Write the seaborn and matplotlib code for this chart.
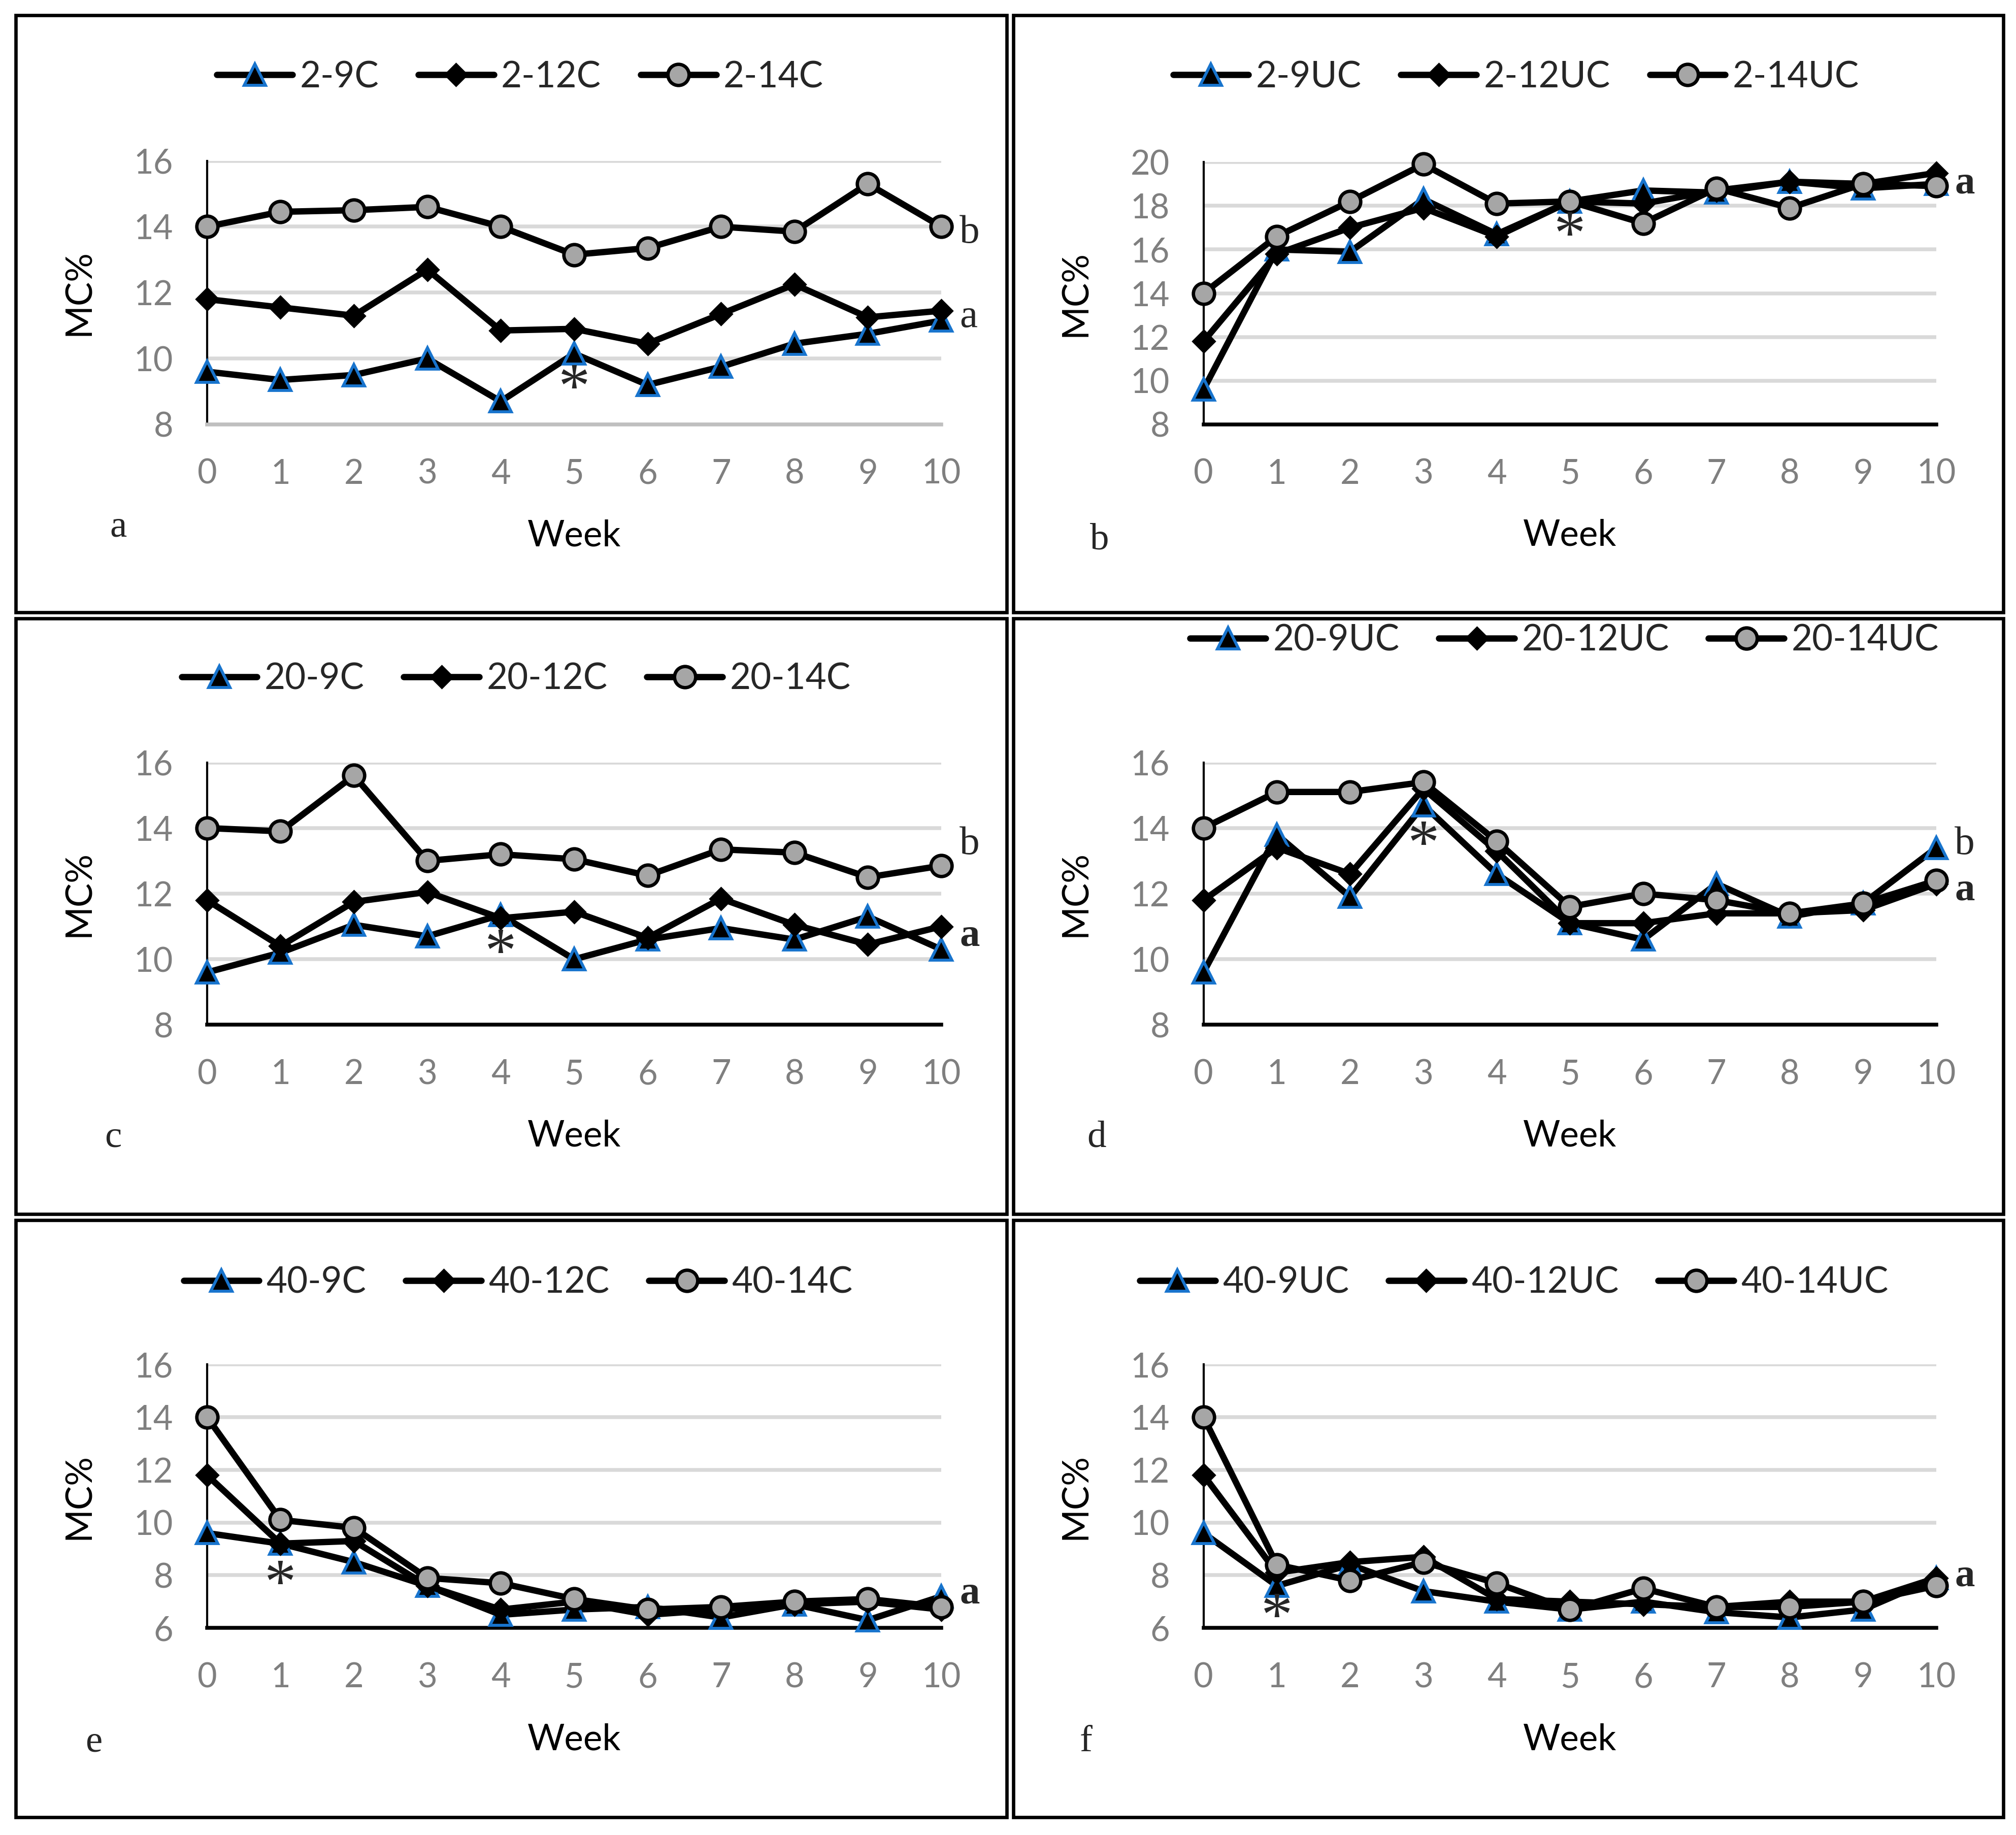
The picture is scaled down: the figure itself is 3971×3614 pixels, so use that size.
import matplotlib
matplotlib.use("Agg")
import matplotlib.pyplot as plt
import seaborn as sns
from matplotlib.patches import Rectangle

# ------------------------------
# Data (MC% by week)
# ------------------------------
weeks = list(range(11))

# panel a : 2 % RH, covered
a_9 = [9.6, 9.35, 9.5, 10.0, 8.7, 10.15, 9.2, 9.75, 10.45, 10.75, 11.15]
a_12 = [11.8, 11.55, 11.3, 12.7, 10.85, 10.9, 10.45, 11.35, 12.25, 11.25, 11.45]
a_14 = [14.0, 14.45, 14.5, 14.6, 14.0, 13.15, 13.35, 14.0, 13.85, 15.3, 14.0]

# panel b : 2 % RH, uncovered
b_9 = [9.6, 16.0, 15.9, 18.3, 16.7, 18.2, 18.7, 18.6, 19.1, 18.8, 19.0]
b_12 = [11.8, 15.8, 17.0, 17.9, 16.6, 18.2, 18.1, 18.7, 19.1, 19.0, 19.5]
b_14 = [14.0, 16.6, 18.2, 19.9, 18.1, 18.2, 17.2, 18.8, 17.9, 19.0, 18.9]

# panel c : 20 % RH, covered
c_9 = [9.6, 10.2, 11.05, 10.7, 11.35, 10.0, 10.6, 10.95, 10.6, 11.3, 10.3]
c_12 = [11.8, 10.4, 11.75, 12.05, 11.25, 11.45, 10.65, 11.85, 11.05, 10.45, 11.0]
c_14 = [14.0, 13.9, 15.6, 13.0, 13.2, 13.05, 12.55, 13.35, 13.25, 12.5, 12.85]

# panel d : 20 % RH, uncovered
d_9 = [9.6, 13.8, 11.9, 14.7, 12.6, 11.1, 10.6, 12.3, 11.3, 11.7, 13.4]
d_12 = [11.8, 13.4, 12.6, 15.2, 13.3, 11.1, 11.1, 11.4, 11.4, 11.5, 12.3]
d_14 = [14.0, 15.1, 15.1, 15.4, 13.6, 11.6, 12.0, 11.8, 11.4, 11.7, 12.4]

# panel e : 40 % RH, covered
e_9 = [9.6, 9.2, 8.5, 7.6, 6.5, 6.7, 6.8, 6.4, 6.9, 6.3, 7.2]
e_12 = [11.8, 9.2, 9.3, 7.6, 6.7, 7.0, 6.5, 6.7, 6.9, 7.0, 6.7]
e_14 = [14.0, 10.1, 9.8, 7.9, 7.7, 7.1, 6.7, 6.8, 7.0, 7.1, 6.8]

# panel f : 40 % RH, uncovered
f_9 = [9.6, 7.6, 8.4, 7.4, 7.0, 6.7, 7.0, 6.6, 6.4, 6.7, 7.9]
f_12 = [11.8, 8.1, 8.5, 8.7, 7.1, 7.0, 6.9, 6.8, 7.0, 7.0, 7.9]
f_14 = [14.0, 8.4, 7.8, 8.5, 7.7, 6.7, 7.5, 6.8, 6.8, 7.0, 7.6]

names_a = ["2-9C", "2-12C", "2-14C"]
names_b = ["2-9UC", "2-12UC", "2-14UC"]
names_c = ["20-9C", "20-12C", "20-14C"]
names_d = ["20-9UC", "20-12UC", "20-14UC"]
names_e = ["40-9C", "40-12C", "40-14C"]
names_f = ["40-9UC", "40-12UC", "40-14UC"]

panel_letters = ["a", "b", "c", "d", "e", "f"]
y_limits = [(8, 16), (8, 20), (8, 16), (8, 16), (6, 16), (6, 16)]

# asterisk (week, MC) and group letters (text, MC, bold)
stars = [(5, 9.0), (5, 16.5), (4, 10.1), (3, 13.4), (1, 7.55), (1, 6.3)]
groups = [
    [("b", 13.8, False), ("a", 11.25, False)],
    [("a", 19.0, True)],
    [("b", 13.5, False), ("a", 10.7, True)],
    [("b", 13.5, False), ("a", 12.1, True)],
    [("a", 7.3, True)],
    [("a", 7.95, True)],
]

# ------------------------------
# Layout (figure fractions)
# ------------------------------
sns.set_style("white")
plt.rcParams["font.family"] = ["Lato", "DejaVu Sans"]

fig = plt.figure(figsize=(3971 / 300, 3614 / 300), dpi=300)

ax_rects = [
    [0.1027, 0.7687, 0.3642, 0.1437],
    [0.5970, 0.7687, 0.3635, 0.1430],
    [0.1027, 0.4415, 0.3642, 0.1430],
    [0.5970, 0.4415, 0.3635, 0.1430],
    [0.1027, 0.1128, 0.3642, 0.1437],
    [0.5970, 0.1128, 0.3635, 0.1437],
]
boxes = [
    [0.0077, 0.6664, 0.4917, 0.3252],
    [0.5026, 0.6664, 0.4910, 0.3252],
    [0.0077, 0.3385, 0.4917, 0.3244],
    [0.5026, 0.3385, 0.4910, 0.3244],
    [0.0077, 0.0098, 0.4917, 0.3252],
    [0.5026, 0.0098, 0.4910, 0.3252],
]
legend_pos = [(0.258, 0.958), (0.752, 0.958), (0.256, 0.630),
              (0.776, 0.651), (0.257, 0.301), (0.751, 0.301)]
letter_pos = [(-0.121, -0.39), (-0.142, -0.44), (-0.128, -0.43),
              (-0.146, -0.43), (-0.154, -0.434), (-0.16, -0.434)]

panels = [
    (a_9, a_12, a_14, names_a),
    (b_9, b_12, b_14, names_b),
    (c_9, c_12, c_14, names_c),
    (d_9, d_12, d_14, names_d),
    (e_9, e_12, e_14, names_e),
    (f_9, f_12, f_14, names_f),
]

tick_gray = "#7F7F7F"
blue = "#1874CD"

for i, (s9, s12, s14, names) in enumerate(panels):
    # panel frame
    fig.patches.append(Rectangle((boxes[i][0], boxes[i][1]), boxes[i][2], boxes[i][3],
                                 transform=fig.transFigure, fill=False,
                                 edgecolor="black", linewidth=1.6))

    ax = fig.add_axes(ax_rects[i])
    sns.lineplot(x=weeks, y=s9, ax=ax, color="black", linewidth=3.0,
                 marker="^", markersize=10, markerfacecolor="black",
                 markeredgecolor=blue, markeredgewidth=1.4,
                 label=names[0], clip_on=False, zorder=3)
    sns.lineplot(x=weeks, y=s12, ax=ax, color="black", linewidth=3.0,
                 marker="D", markersize=7.5, markerfacecolor="black",
                 markeredgecolor="black", label=names[1], clip_on=False, zorder=4)
    sns.lineplot(x=weeks, y=s14, ax=ax, color="black", linewidth=3.0,
                 marker="o", markersize=10, markerfacecolor="#A6A6A6",
                 markeredgecolor="black", markeredgewidth=1.6,
                 label=names[2], clip_on=False, zorder=5)

    lo, hi = y_limits[i]
    ax.set_xlim(0, 10)
    ax.set_ylim(lo, hi)
    ax.set_xticks(weeks)
    ax.set_yticks(range(lo, hi + 1, 2))
    ax.grid(axis="y", color="#D9D9D9", linewidth=1.8, zorder=0)
    ax.set_axisbelow(True)
    ax.tick_params(axis="both", length=0, labelsize=16, labelcolor=tick_gray, pad=16)

    for side in ["top", "right"]:
        ax.spines[side].set_visible(False)
    ax.spines["left"].set_color("black")
    ax.spines["left"].set_linewidth(1.0)
    if i == 0:
        ax.spines["bottom"].set_color("#BFBFBF")
    else:
        ax.spines["bottom"].set_color("black")
    ax.spines["bottom"].set_linewidth(1.8)

    ax.set_ylabel("MC%", fontsize=17, color="black")
    ax.yaxis.set_label_coords(-0.152, 0.5)
    ax.set_xlabel("Week", fontsize=17, color="black")
    ax.xaxis.set_label_coords(0.5, -0.36)

    # legend above the plot
    ax.legend(loc="center", bbox_to_anchor=legend_pos[i], bbox_transform=fig.transFigure,
              ncol=3, frameon=False, fontsize=17, handlelength=2.1,
              handletextpad=0.2, columnspacing=1.1)

    # panel letter, asterisk and group letters
    ax.text(letter_pos[i][0], letter_pos[i][1], panel_letters[i], transform=ax.transAxes,
            fontsize=18, family="Liberation Serif", ha="center", va="center")
    ax.text(stars[i][0], stars[i][1], "*", fontsize=30, family="Liberation Serif",
            ha="center", va="center", zorder=6)
    for txt, yv, bold in groups[i]:
        ax.text(10.25, yv, txt, fontsize=19, family="Liberation Serif",
                fontweight="bold" if bold else "normal", ha="left", va="center")

fig.savefig("out.png", dpi=300, facecolor="white")
